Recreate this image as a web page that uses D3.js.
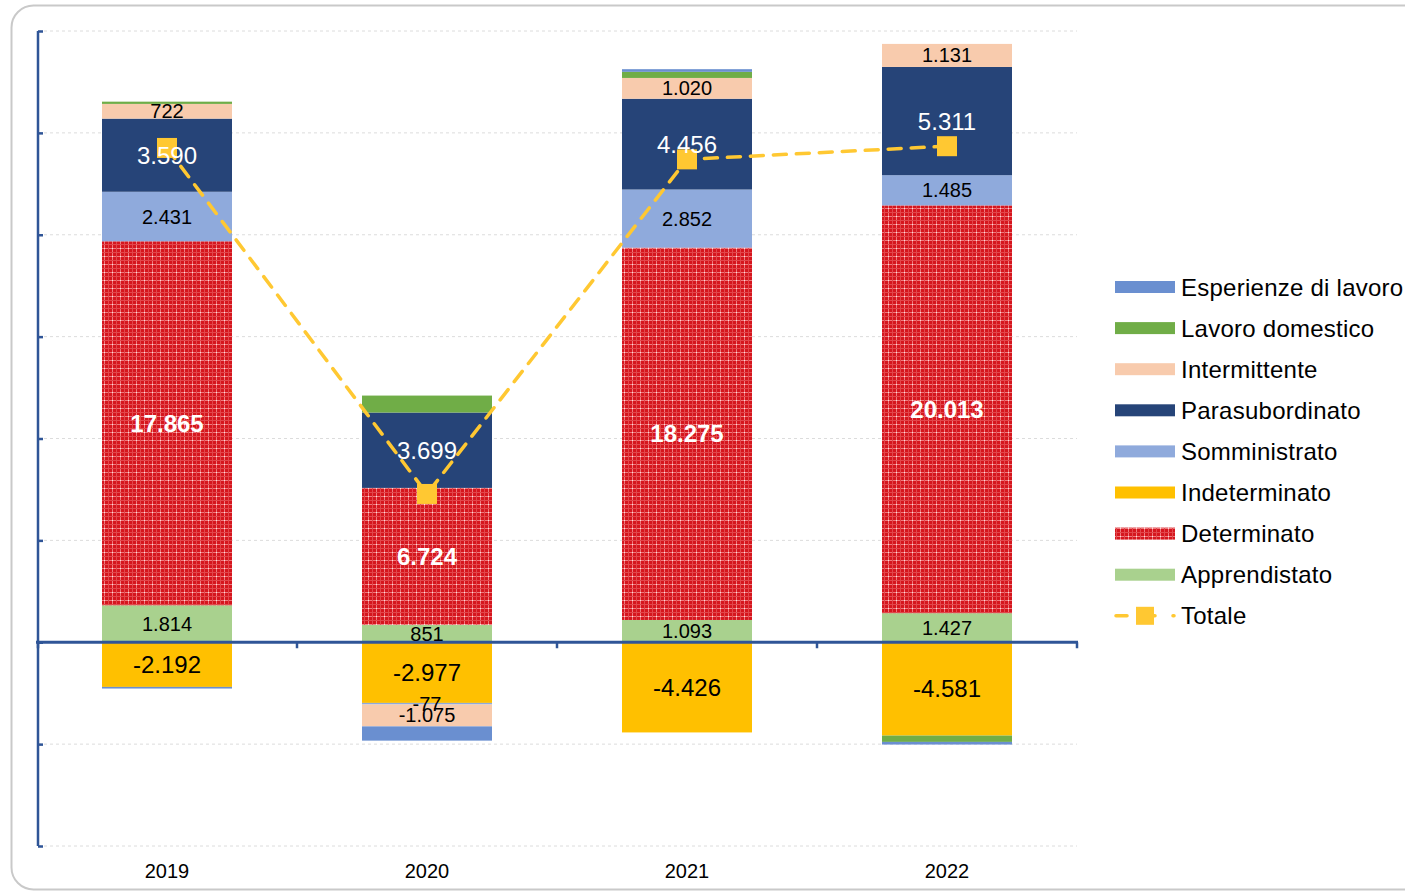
<!DOCTYPE html>
<html>
<head>
<meta charset="utf-8">
<script src="https://cdn.jsdelivr.net/npm/d3@7"></script>
<style>
  html, body { margin: 0; padding: 0; background: #fff; }
  svg { display: block; font-family: "Liberation Sans", Arial, Helvetica, sans-serif; }
</style>
</head>
<body>
<svg id="chart" width="1405" height="893"></svg>
<script>
// ---- Data ----
const years = ["2019", "2020", "2021", "2022"];
const seriesNames = ["Apprendistato", "Determinato", "Indeterminato", "Somministrato",
                     "Parasubordinato", "Intermittente", "Lavoro domestico", "Esperienze di lavoro"];
const apprendistato   = [1814, 851, 1093, 1427];
const determinato     = [17865, 6724, 18275, 20013];
const indeterminato   = [-2192, -2977, -4426, -4581];
const somministrato   = [2431, -77, 2852, 1485];
const parasubordinato = [3590, 3699, 4456, 5311];
const intermittente   = [722, -1075, 1020, 1131];
const lavoroDomestico = [110, 833, 300, -310];
const esperienze      = [-80, -700, 130, -130];
const totale          = [24260, 7278, 23700, 24346];
const yTicks = [-10000, -5000, 0, 5000, 10000, 15000, 20000, 25000, 30000];
const legendOrder = ["Esperienze di lavoro", "Lavoro domestico", "Intermittente", "Parasubordinato",
                     "Somministrato", "Indeterminato", "Determinato", "Apprendistato"];

const valuesBySeries = {
  "Apprendistato": apprendistato,
  "Determinato": determinato,
  "Indeterminato": indeterminato,
  "Somministrato": somministrato,
  "Parasubordinato": parasubordinato,
  "Intermittente": intermittente,
  "Lavoro domestico": lavoroDomestico,
  "Esperienze di lavoro": esperienze
};

const colors = {
  "Apprendistato": "#a9d18e",
  "Determinato": "url(#plaid)",
  "Indeterminato": "#ffc000",
  "Somministrato": "#8faadc",
  "Parasubordinato": "#264478",
  "Intermittente": "#f8cbad",
  "Lavoro domestico": "#70ad47",
  "Esperienze di lavoro": "#6a8fd0"
};
const labelStyle = {
  "Apprendistato":   {fill: "#000", size: 20, weight: "normal"},
  "Determinato":     {fill: "#fff", size: 24, weight: "bold"},
  "Indeterminato":   {fill: "#000", size: 24, weight: "normal"},
  "Somministrato":   {fill: "#000", size: 20, weight: "normal"},
  "Parasubordinato": {fill: "#fff", size: 24, weight: "normal"},
  "Intermittente":   {fill: "#000", size: 20, weight: "normal"}
};
const totColor = "#ffc832";
const axisColor = "#2f5597";

// ---- Build table ----
const table = years.map((y, i) => {
  const row = {year: y};
  seriesNames.forEach(s => row[s] = valuesBySeries[s][i]);
  return row;
});

const svg = d3.select("#chart");

// pattern for Determinato
const defs = svg.append("defs");
const pat = defs.append("pattern").attr("id", "plaid").attr("patternUnits", "userSpaceOnUse")
  .attr("width", 8).attr("height", 8);
pat.append("rect").attr("width", 8).attr("height", 8).attr("fill", "#d5161e");
pat.append("rect").attr("x", 0).attr("y", 0).attr("width", 1).attr("height", 8).attr("fill", "#ee7a7e");
pat.append("rect").attr("x", 0).attr("y", 0).attr("width", 8).attr("height", 1).attr("fill", "#ee7a7e");
pat.append("rect").attr("x", 4).attr("y", 0).attr("width", 1).attr("height", 8).attr("fill", "#e2474c");
pat.append("rect").attr("x", 0).attr("y", 4).attr("width", 8).attr("height", 1).attr("fill", "#e2474c");
pat.append("rect").attr("x", 0).attr("y", 0).attr("width", 1).attr("height", 1).attr("fill", "#ffd6d6");

// frame
svg.append("rect").attr("x", 11.5).attr("y", 5.5).attr("width", 1440).attr("height", 884)
  .attr("rx", 22).attr("ry", 22).attr("fill", "#fff").attr("stroke", "#c9c9c9").attr("stroke-width", 2);

// scales
const x = d3.scaleBand().domain(years).range([37, 1077]).paddingInner(0.5).paddingOuter(0.25);
const y = d3.scaleLinear().domain([-10000, 30000]).range([846, 31]);

// gridlines
svg.append("g").selectAll("line").data(yTicks.filter(t => t !== 0)).join("line")
  .attr("x1", 38).attr("x2", 1077).attr("y1", d => y(d)).attr("y2", d => y(d))
  .attr("stroke", "#dcdcdc").attr("stroke-width", 1).attr("stroke-dasharray", "3,3");

// stack
const stack = d3.stack().keys(seriesNames).offset(d3.stackOffsetDiverging);
const stacked = stack(table);

const gBars = svg.append("g");
stacked.forEach(layer => {
  gBars.append("g").attr("fill", colors[layer.key])
    .selectAll("rect").data(layer).join("rect")
    .attr("x", d => x(d.data.year))
    .attr("width", x.bandwidth())
    .attr("y", d => y(Math.max(d[0], d[1])))
    .attr("height", d => Math.abs(y(d[0]) - y(d[1])));
});

// axes
const yAxis = d3.axisRight(y).tickValues(yTicks).tickSize(5).tickFormat("");
const gy = svg.append("g").attr("transform", "translate(38,0)").call(yAxis);
gy.select(".domain").attr("stroke", axisColor).attr("stroke-width", 2.5).attr("d", "M0,31V846");
gy.selectAll(".tick line").attr("stroke", axisColor).attr("stroke-width", 2.5);

const bounds = [38, 297, 557, 817, 1077];
svg.append("g").selectAll("line").data(bounds).join("line")
  .attr("x1", d => d).attr("x2", d => d).attr("y1", y(0)).attr("y2", y(0) + 6)
  .attr("stroke", axisColor).attr("stroke-width", 2.5);
svg.append("line").attr("x1", 36).attr("x2", 1078).attr("y1", y(0)).attr("y2", y(0))
  .attr("stroke", axisColor).attr("stroke-width", 3);

// year labels
svg.append("g").selectAll("text").data(years).join("text")
  .attr("x", d => x(d) + x.bandwidth() / 2).attr("y", 871)
  .attr("text-anchor", "middle").attr("dominant-baseline", "central")
  .attr("font-size", 20).attr("fill", "#000").text(d => d);

// total line
const cx = d => x(d) + x.bandwidth() / 2;
const line = d3.line().x((d, i) => cx(years[i])).y(d => y(d));
svg.append("path").datum(totale).attr("d", line).attr("fill", "none")
  .attr("stroke", totColor).attr("stroke-width", 3.5).attr("stroke-dasharray", "13,10")
  .attr("stroke-linecap", "round");
svg.append("g").selectAll("rect").data(totale).join("rect")
  .attr("x", (d, i) => cx(years[i]) - 10).attr("y", d => y(d) - 10)
  .attr("width", 20).attr("height", 20).attr("fill", totColor);

// labels
const loc = d3.formatLocale({decimal: ",", thousands: ".", grouping: [3], currency: ["", ""], minus: "-"});
const fmt = loc.format(",d");
const gLab = svg.append("g");
stacked.forEach(layer => {
  const st = labelStyle[layer.key];
  if (!st) return;
  gLab.append("g").selectAll("text").data(layer).join("text")
    .attr("x", d => cx(d.data.year))
    .attr("y", d => y((d[0] + d[1]) / 2))
    .attr("text-anchor", "middle").attr("dominant-baseline", "central")
    .attr("font-size", st.size).attr("font-weight", st.weight).attr("fill", st.fill)
    .text(d => fmt(d.data[layer.key]));
});

// legend
const lg = svg.append("g");
legendOrder.forEach((s, i) => {
  const yy = 287 + i * 41.1;
  lg.append("rect").attr("x", 1115).attr("y", yy - 6).attr("width", 60).attr("height", 12).attr("fill", colors[s]);
  lg.append("text").attr("x", 1181).attr("y", yy).attr("dominant-baseline", "central")
    .attr("font-size", 24).attr("letter-spacing", 0.25).attr("fill", "#000").text(s);
});
{
  const yy = 287 + 8 * 41.1;
  lg.append("line").attr("x1", 1116).attr("x2", 1127).attr("y1", yy).attr("y2", yy)
    .attr("stroke", totColor).attr("stroke-width", 3.5).attr("stroke-linecap", "round");
  lg.append("line").attr("x1", 1152).attr("x2", 1155).attr("y1", yy).attr("y2", yy)
    .attr("stroke", totColor).attr("stroke-width", 3.5).attr("stroke-linecap", "round");
  lg.append("line").attr("x1", 1173).attr("x2", 1174).attr("y1", yy).attr("y2", yy)
    .attr("stroke", totColor).attr("stroke-width", 3.5).attr("stroke-linecap", "round");
  lg.append("rect").attr("x", 1136).attr("y", yy - 9).attr("width", 18).attr("height", 18).attr("fill", totColor);
  lg.append("text").attr("x", 1181).attr("y", yy).attr("dominant-baseline", "central")
    .attr("font-size", 24).attr("letter-spacing", 0.25).attr("fill", "#000").text("Totale");
}
</script>
</body>
</html>
